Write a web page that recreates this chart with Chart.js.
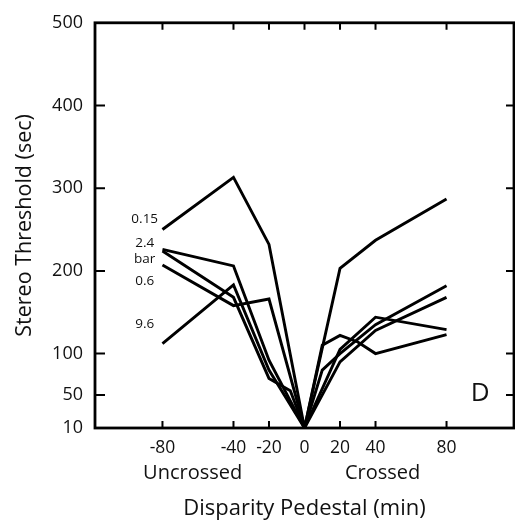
<!DOCTYPE html>
<html>
<head>
<meta charset="utf-8">
<script src="https://cdn.jsdelivr.net/npm/chart.js@4"></script>
<style>
  html, body { margin: 0; padding: 0; background: #fff; }
  #wrap { width: 515px; height: 524px; }
</style>
</head>
<body>
<div id="wrap"><canvas id="chart" width="515" height="524"></canvas></div>
<script>
// --- Dados ---
const pedestalTicks = [-80, -40, -20, 0, 20, 40, 80];
const thresholdTicks = [10, 50, 100, 200, 300, 400, 500];
const seriesNames = ['0.15', '2.4', 'bar', '0.6', '9.6'];

const x015 = [-80, -40, -20, 0, 20, 40, 80];
const y015 = [250, 313, 232, 10, 203, 237, 287];
const x24 = [-80, -40, -20, 0, 10, 20, 40, 80];
const y24 = [226, 206, 92, 10, 80, 100, 135, 182];
const xBar = [-80, -40, -20, -8, 0, 20, 40, 80];
const yBar = [224, 168, 70, 55, 10, 90, 128, 168];
const x06 = [-80, -40, -20, 0, 10, 20, 30, 40, 80];
const y06 = [207, 158, 166, 10, 110, 122, 114, 100, 123];
const x96 = [-80, -40, -20, 0, 20, 40, 80];
const y96 = [112, 183, 80, 10, 105, 144, 129];

const sideLabels = ['Uncrossed', 'Crossed'];
const panelLetter = 'D';

// --- Posição das anotações (em unidades dos eixos) ---
const seriesLabelX = -90;
const seriesLabelY = [263, 234, 214, 187, 136];
const sideLabelX = [-63, 44];
const letterPos = { x: 99, y: 52 };

const FONT = '"Open Sans", "DejaVu Sans", sans-serif';
const INK = '#111';
const toPoints = (xs, ys) => xs.map((v, i) => ({ x: v, y: ys[i] }));

const lineSet = (name, xs, ys) => ({
  label: name,
  data: toPoints(xs, ys),
  borderColor: '#000',
  borderWidth: 2.9,
  pointRadius: 0,
  tension: 0,
  fill: false
});

// --- Moldura, marcas internas e textos ---
const framePlugin = {
  id: 'frame',
  afterDraw(chart) {
    const { ctx, chartArea: a, scales: { x, y } } = chart;
    ctx.save();
    ctx.strokeStyle = '#000';
    ctx.lineWidth = 2.8;
    ctx.strokeRect(a.left, a.top, a.right - a.left, a.bottom - a.top);

    ctx.lineWidth = 2;
    ctx.beginPath();
    pedestalTicks.forEach(v => {
      const px = x.getPixelForValue(v);
      ctx.moveTo(px, a.bottom); ctx.lineTo(px, a.bottom - 7);
      ctx.moveTo(px, a.top); ctx.lineTo(px, a.top + 7);
    });
    thresholdTicks.slice(1, -1).forEach(v => {
      const py = y.getPixelForValue(v);
      ctx.moveTo(a.left, py); ctx.lineTo(a.left + 10, py);
      ctx.moveTo(a.right, py); ctx.lineTo(a.right - 8, py);
    });
    ctx.stroke();

    ctx.fillStyle = INK;
    ctx.textAlign = 'center';
    ctx.textBaseline = 'middle';
    ctx.font = '13.5px ' + FONT;
    seriesNames.forEach((n, i) => {
      ctx.fillText(n, x.getPixelForValue(seriesLabelX), y.getPixelForValue(seriesLabelY[i]));
    });

    ctx.font = '20px ' + FONT;
    sideLabels.forEach((t, i) => {
      ctx.fillText(t, x.getPixelForValue(sideLabelX[i]), a.bottom + 45);
    });

    ctx.font = '26px ' + FONT;
    ctx.fillText(panelLetter, x.getPixelForValue(letterPos.x), y.getPixelForValue(letterPos.y));
    ctx.restore();
  }
};

new Chart(document.getElementById('chart'), {
  type: 'line',
  data: {
    datasets: [
      lineSet(seriesNames[0], x015, y015),
      lineSet(seriesNames[1], x24, y24),
      lineSet(seriesNames[2], xBar, yBar),
      lineSet(seriesNames[3], x06, y06),
      lineSet(seriesNames[4], x96, y96)
    ]
  },
  options: {
    responsive: false,
    animation: false,
    layout: { padding: { top: 15, right: 1, left: 0, bottom: 0 } },
    plugins: { legend: { display: false }, tooltip: { enabled: false } },
    scales: {
      x: {
        type: 'linear',
        min: -118,
        max: 118,
        afterBuildTicks: s => { s.ticks = pedestalTicks.map(v => ({ value: v })); },
        afterFit: s => { s.height = 96; },
        grid: { display: false, drawTicks: false },
        border: { display: false },
        ticks: { color: INK, padding: 10, font: { family: FONT, size: 17.5 }, maxRotation: 0, autoSkip: false },
        title: {
          display: true,
          text: 'Disparity Pedestal (min)',
          color: INK,
          font: { family: FONT, size: 22 },
          padding: { top: 0, bottom: 2 }
        }
      },
      y: {
        type: 'linear',
        min: 10,
        max: 500,
        afterBuildTicks: s => { s.ticks = thresholdTicks.map(v => ({ value: v })); },
        afterFit: s => { s.width = 95; },
        grid: { display: false, drawTicks: false },
        border: { display: false },
        ticks: { color: INK, padding: 12, font: { family: FONT, size: 18 }, autoSkip: false },
        title: {
          display: true,
          text: 'Stereo Threshold (sec)',
          color: INK,
          font: { family: FONT, size: 21.5 },
          padding: { top: 12, bottom: 0 }
        }
      }
    }
  },
  plugins: [framePlugin]
});
</script>
</body>
</html>
